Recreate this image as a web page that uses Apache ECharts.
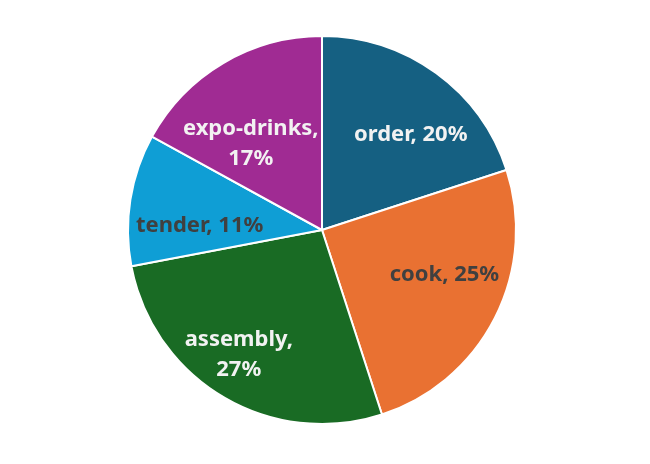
<!DOCTYPE html>
<html><head><meta charset="utf-8">
<script src="https://cdn.jsdelivr.net/npm/echarts@6/dist/echarts.min.js"></script>
<style>html,body{margin:0;padding:0;background:#fff}#c{width:650px;height:464px}</style>
</head><body><div id="c"></div>
<script>
var categories = ['order', 'cook', 'assembly', 'tender', 'expo-drinks'];
var values = [20, 25, 27, 11, 17];
var labelLines = ['order, 20%', 'cook, 25%', 'assembly,\n27%', 'tender, 11%', 'expo-drinks,\n17%'];
var colors = ['#156082', '#E97132', '#196B24', '#0F9ED5', '#A02B93'];
var labelColors = ['#f2f2f2', '#404040', '#f2f2f2', '#404040', '#f2f2f2'];
// label nudges (style only), mimicking the spreadsheet's best-fit placement
var labelNudges = [[10, 13], [3, -16], [-15, 9], [10, 17], [-3, 29]];

var chart = echarts.init(document.getElementById('c'));
var pieData = categories.map(function (c, i) {
  return { name: c, value: values[i], itemStyle: { color: colors[i] } };
});
var labelData = categories.map(function (c, i) {
  return { name: c, value: values[i], label: { color: labelColors[i], offset: labelNudges[i] } };
});
chart.setOption({
  animation: false,
  series: [{
    type: 'pie',
    center: [322, 230],
    radius: [0, 194],
    startAngle: 90,
    clockwise: true,
    label: { show: false },
    labelLine: { show: false },
    itemStyle: { borderColor: '#ffffff', borderWidth: 2 },
    data: pieData,
    silent: true
  }, {
    type: 'pie',
    center: [322, 230],
    radius: [0, 262],
    startAngle: 90,
    clockwise: true,
    silent: true,
    itemStyle: { color: 'rgba(0,0,0,0)' },
    labelLine: { show: false },
    label: {
      show: true,
      position: 'inside',
      fontFamily: 'Noto Sans',
      fontWeight: 'bold',
      fontSize: 22,
      lineHeight: 30,
      align: 'center',
      formatter: function (p) { return labelLines[p.dataIndex]; }
    },
    data: labelData
  }]
});
</script></body></html>
